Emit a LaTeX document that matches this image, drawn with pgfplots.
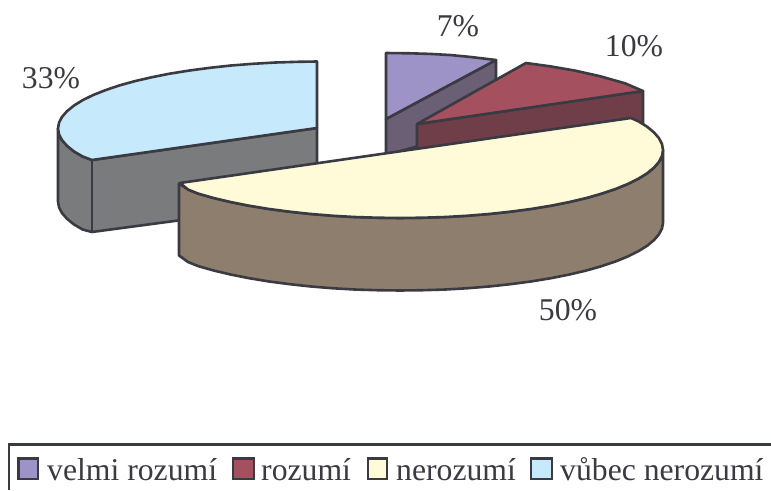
\documentclass[border=0pt]{standalone}
\usepackage{pgfplots}
\usepackage{fontspec}
\setmainfont{Liberation Serif}
\pgfplotsset{compat=1.18}
\definecolor{ln}{HTML}{3A3A42}
\definecolor{pt}{HTML}{9D93C7}
\definecolor{ps}{HTML}{6B5F75}
\definecolor{rt}{HTML}{A5505F}
\definecolor{rs}{HTML}{703E48}
\definecolor{yt}{HTML}{FFFAD8}
\definecolor{ys}{HTML}{8E7E6E}
\definecolor{bt}{HTML}{C6E9FB}
\definecolor{bs}{HTML}{7A7B7D}
\pgfplotsset{seg/.style={draw=ln,line width=2.6pt,line join=round}}
\newcommand\lf{\fontsize{31.7}{32}\selectfont\color{ln}}
\begin{document}
\begin{tikzpicture}
\useasboundingbox (0,0) rectangle (771pt,490pt);
\begin{axis}[
  at={(0,0)},anchor=south west,
  width=771pt,height=490pt,scale only axis,
  xmin=0,xmax=771,ymin=0,ymax=490,y dir=reverse,
  hide axis,clip=true]
% purple slice
\addplot[seg,fill=ps] coordinates {(386,119)(496,60)(496,125)(386,155)} -- cycle;
\addplot[seg,fill=pt] coordinates {(386,53)(410,53.3)(430,53.9)(450,55)(470,56.9)(496,60)(386,119)} -- cycle;
% red slice
\addplot[seg,fill=rs] coordinates {(417,124)(643,91)(643,135)(417,152)} -- cycle;
\addplot[seg,fill=rt] coordinates {(526,63)(550,66.3)(575,70.6)(600,76.2)(625,83.3)(643,91)(417,124)} -- cycle;
% blue slice
\addplot[seg,fill=bs] coordinates {(58,128.5)(59,134.3)(62,140.1)(67,145.8)(73.9,151.4)(82.6,156.5)(92,160)(317,128)(317,202)(92,232)(82.6,229.5)(73.9,224.4)(67,218.8)(62,213.1)(59,207.3)(58,201.5)} -- cycle;
\addplot[seg] coordinates {(92,160)(92,232)};
\addplot[seg,fill=bt] coordinates {(317,61.5)(298.1,61.8)(275.3,62.5)(253,63.8)(231,65.5)(209.9,67.8)(189.5,70.5)(170.1,73.6)(152,77.2)(135,81.1)(119.5,85.4)(105.6,90.1)(93.2,95)(82.6,100.2)(73.9,105.6)(67,111.2)(62,116.9)(59,122.7)(58,128.5)(59,134.3)(62,140.1)(67,145.8)(73.9,151.4)(82.6,156.5)(92,160)(317,128)} -- cycle;
% yellow slice
\addplot[seg,fill=ys] coordinates {(179,183.5)(188,189.5)(198.5,193.7)(214,198.1)(231,202.1)(249.1,205.7)(268.5,208.9)(288.9,211.6)(310,213.9)(332,215.7)(354.3,217)(377.1,217.7)(400,218)(422.9,217.7)(445.7,217)(468,215.7)(490,213.9)(511.1,211.6)(531.5,208.9)(550.9,205.7)(569,202.1)(586,198.1)(601.5,193.7)(615.4,189)(627.8,184)(638.4,178.7)(647.1,173.3)(654,167.6)(659,161.8)(662,155.9)(663,150)(663,223)(662,228.4)(659,234.3)(654,240.1)(647.1,245.8)(638.4,251.2)(627.8,256.5)(615.4,261.5)(601.5,266.2)(586,270.6)(569,274.6)(550.9,278.2)(531.5,281.4)(511.1,284.1)(490,286.4)(468,288.2)(445.7,289.5)(422.9,290.2)(400,290.5)(377.1,290.2)(354.3,289.5)(332,288.2)(310,286.4)(288.9,284.1)(268.5,281.4)(249.1,278.2)(231,274.6)(214,270.6)(198.5,266.2)(188,262)(179,255.5)} -- cycle;
\addplot[seg,fill=yt] coordinates {(180,183)(631,118)(638.4,121.3)(647.1,126.7)(654,132.4)(659,138.2)(662,144.1)(663,150)(662,155.9)(659,161.8)(654,167.6)(647.1,173.3)(638.4,178.7)(627.8,184)(615.4,189)(601.5,193.7)(586,198.1)(569,202.1)(550.9,205.7)(531.5,208.9)(511.1,211.6)(490,213.9)(468,215.7)(445.7,217)(422.9,217.7)(400,218)(377.1,217.7)(354.3,217)(332,215.7)(310,213.9)(288.9,211.6)(268.5,208.9)(249.1,205.7)(231,202.1)(214,198.1)(198.5,193.7)(188,189.5)} -- cycle;
% legend frame
\addplot[draw=ln,line width=2.2pt] coordinates {(9,490)(9,444.5)(771,444.5)};
% legend keys
\addplot[draw=ln,line width=2.4pt,fill=pt] coordinates {(18.5,458.5)(38,458.5)(38,479)(18.5,479)} -- cycle;
\addplot[draw=ln,line width=2.4pt,fill=rt] coordinates {(233,458.5)(254,458.5)(254,479)(233,479)} -- cycle;
\addplot[draw=ln,line width=2.4pt,fill=yt] coordinates {(368,458.5)(387,458.5)(387,479)(368,479)} -- cycle;
\addplot[draw=ln,line width=2.4pt,fill=bt] coordinates {(531,458.5)(552,458.5)(552,479)(531,479)} -- cycle;
% labels
\node[anchor=center] at (axis cs:458,26) {\lf 7\%};
\node[anchor=center] at (axis cs:634,46) {\lf 10\%};
\node[anchor=center] at (axis cs:51,78) {\lf 33\%};
\node[anchor=center] at (axis cs:568,310) {\lf 50\%};
\node[anchor=base west,inner sep=0pt] at (axis cs:47,480) {\lf velmi rozumí};
\node[anchor=base west,inner sep=0pt] at (axis cs:261,480) {\lf rozumí};
\node[anchor=base west,inner sep=0pt] at (axis cs:396,480) {\lf nerozumí};
\node[anchor=base west,inner sep=0pt] at (axis cs:560,480) {\lf vůbec nerozumí};
\end{axis}
\end{tikzpicture}
\end{document}
